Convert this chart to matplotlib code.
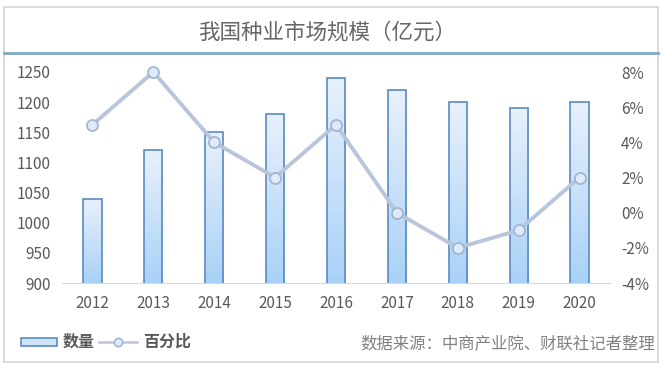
import matplotlib.pyplot as plt
import numpy as np
from matplotlib.patches import Rectangle
from matplotlib.colors import LinearSegmentedColormap
from matplotlib.ticker import FuncFormatter

plt.rcParams["font.family"] = ["Noto Sans CJK SC", "DejaVu Sans"]

years = ["2012", "2013", "2014", "2015", "2016", "2017", "2018", "2019", "2020"]
scale = [1040, 1120, 1150, 1180, 1240, 1220, 1200, 1190, 1200]
pct = [5, 8, 4, 2, 5, 0, -2, -1, 2]

TXT = "#595959"
BAR_EDGE = "#5b8bc4"
LINE_C = "#b8c5da"

fig = plt.figure(figsize=(6.64, 3.68), dpi=100)

# outer frame + title band (pixel coordinates)
frame = fig.add_axes([0, 0, 1, 1])
frame.set_xlim(0, 664)
frame.set_ylim(368, 0)
frame.axis("off")
frame.add_patch(Rectangle((4, 7), 654, 355, fill=False, ec="#d6d6d6", lw=1.2))
frame.plot([4, 658], [53, 53], color="#7ea8c8", lw=2)
frame.text(327, 33, "我国种业市场规模（亿元）", ha="center", va="center", fontsize=15.5, color="#666666")

ax = fig.add_axes([62 / 664, 1 - 283 / 368, 548 / 664, 211 / 368])
x = np.arange(len(years))
bars = ax.bar(x, scale, width=0.3, color="none", edgecolor=BAR_EDGE, lw=1.2, zorder=3)

# vertical gradient fill, light at top, blue at bottom
grad = np.linspace(0, 1, 256).reshape(-1, 1)
cmap = LinearSegmentedColormap.from_list("g", ["#a9d1f7", "#e8f1fb"])
for b in bars:
    x0, w, h = b.get_x(), b.get_width(), b.get_height()
    im = ax.imshow(grad, cmap=cmap, origin="lower", aspect="auto",
                   extent=[x0, x0 + w, 900, h], zorder=2)
    im.set_clip_path(b)

ax.set_xlim(-0.5, 8.5)
ax.set_ylim(900, 1250)
ax.set_yticks(range(900, 1251, 50))
ax.set_xticks(x)
ax.set_xticklabels(years)
for s in ["top", "right", "left"]:
    ax.spines[s].set_visible(False)
ax.spines["bottom"].set_color("#d9d9d9")
ax.tick_params(length=0, labelsize=11, colors=TXT, pad=8)
ax.tick_params(axis="x", pad=9)

ax2 = ax.twinx()
ax2.set_ylim(-4, 8)
ax2.set_yticks(range(-4, 9, 2))
ax2.yaxis.set_major_formatter(FuncFormatter(lambda v, p: f"{int(v)}%"))
for s in ax2.spines.values():
    s.set_visible(False)
ax2.tick_params(length=0, labelsize=11, colors=TXT, pad=8)
ax2.plot(x, pct, color=LINE_C, lw=2.8, marker="o", ms=8, mfc="#dceafa",
         mec="#9fb3cf", mew=1.2, zorder=5, clip_on=False)

# legend
frame.add_patch(Rectangle((21, 338), 36, 8, fc="#cfe3f8", ec=BAR_EDGE, lw=1.2))
frame.text(63, 342, "数量", va="center", fontsize=11.5, fontweight="bold", color=TXT)
frame.plot([99, 137], [342, 342], color=LINE_C, lw=1.8)
frame.plot([118], [342], marker="o", ms=6, mfc="#dceafa", mec="#9fb3cf", mew=1.1)
frame.text(143, 342, "百分比", va="center", fontsize=11.5, fontweight="bold", color=TXT)
frame.text(655, 344, "数据来源：中商产业院、财联社记者整理", ha="right", va="center",
           fontsize=11.8, color="#808080")

fig.savefig("out.png")
